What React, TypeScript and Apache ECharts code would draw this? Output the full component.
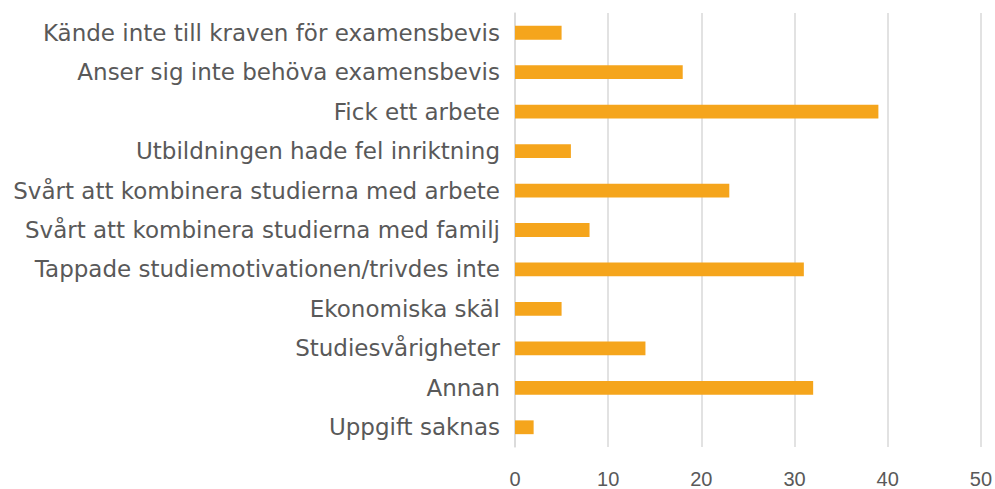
import React, { useEffect, useRef } from "react";
import * as echarts from "echarts";

const categories = [
  "Kände inte till kraven för examensbevis",
  "Anser sig inte behöva examensbevis",
  "Fick ett arbete",
  "Utbildningen hade fel inriktning",
  "Svårt att kombinera studierna med arbete",
  "Svårt att kombinera studierna med familj",
  "Tappade studiemotivationen/trivdes inte",
  "Ekonomiska skäl",
  "Studiesvårigheter",
  "Annan",
  "Uppgift saknas",
];
const values = [5, 18, 39, 6, 23, 8, 31, 5, 14, 32, 2];
const xMin = 0;
const xMax = 50;
const xInterval = 10;

export default function App() {
  const ref = useRef<HTMLDivElement>(null);
  useEffect(() => {
    if (!ref.current) return;
    const chart = echarts.init(ref.current, null, { renderer: "svg" });
    chart.setOption({
      animation: false,
      grid: { left: 515, right: 12, top: 13, bottom: 40, containLabel: false },
      xAxis: {
        type: "value",
        min: xMin,
        max: xMax,
        interval: xInterval,
        axisLine: { show: false },
        axisTick: { show: false },
        axisLabel: {
          color: "#595959",
          fontFamily: "Liberation Sans, Arial, sans-serif",
          fontSize: 20,
          margin: 22,
        },
        splitLine: { show: true, lineStyle: { color: "#d9d9d9", width: 1.5 } },
      },
      yAxis: {
        type: "category",
        data: categories,
        inverse: true,
        axisLine: { show: true, lineStyle: { color: "#d9d9d9", width: 1.5 } },
        axisTick: { show: false },
        axisLabel: {
          color: "#595959",
          fontFamily: "DejaVu Sans, sans-serif",
          fontSize: 23,
          margin: 15,
        },
      },
      series: [
        {
          type: "bar",
          data: values,
          barWidth: "35%",
          itemStyle: { color: "#F5A51C" },
        },
      ],
    });
    return () => chart.dispose();
  }, []);
  return (
    <div
      ref={ref}
      style={{ width: 995, height: 489, position: "absolute", left: 0, top: 0, background: "#fff" }}
    />
  );
}
